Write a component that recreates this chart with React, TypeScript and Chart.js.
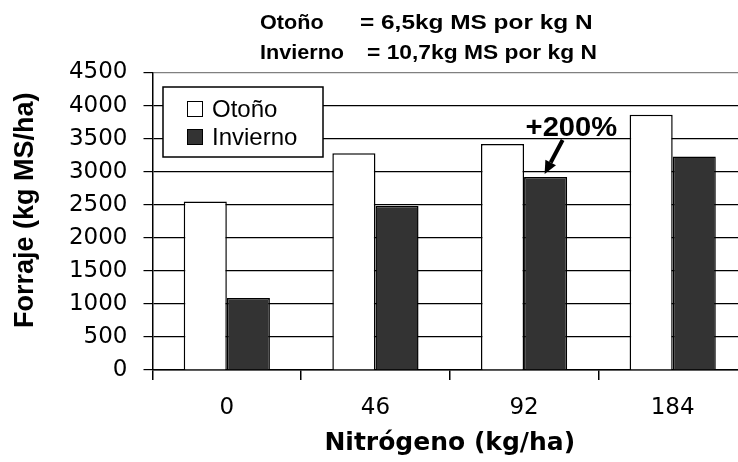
import React, { useEffect, useRef } from 'react';
import { Chart, registerables } from 'chart.js';

Chart.register(...registerables);

// Nitrogen rates (kg/ha) on the category axis
const categories = ['0', '46', '92', '184'];
// Forage yield (kg MS/ha) per season
const seriesNames = ['Otoño', 'Invierno'];
const otonoValues = [2550, 3280, 3420, 3860];
const inviernoValues = [1090, 2480, 2920, 3230];
const seriesFill = ['#ffffff', '#333333'];

// Y axis range
const yMin = 0;
const yMax = 4500;
const yStep = 500;

// Response per kg of nitrogen, shown above the plot
const noteSeason = ['Otoño', 'Invierno'];
const noteText = ['= 6,5kg MS por kg N', '= 10,7kg MS por kg N'];

// Highlighted increase on the winter series
const increaseText = '+200%';
const increaseIndex = 2;

const yTitle = 'Forraje (kg MS/ha)';
const xTitle = 'Nitrógeno (kg/ha)';

const FONT = '"Liberation Sans", Arial, Helvetica, sans-serif';
const WIDE_FONT = '"DejaVu Sans", Verdana, sans-serif';

// draws text widened horizontally by factor k, left edge at x
function wideText(ctx: CanvasRenderingContext2D, text: string, x: number, y: number, k: number) {
  ctx.save();
  ctx.translate(x, y);
  ctx.scale(k, 1);
  ctx.fillText(text, 0, 0);
  ctx.restore();
}

const overlays = {
  id: 'overlays',
  afterDraw(chart: any) {
    const { ctx, chartArea } = chart;
    ctx.save();
    ctx.fillStyle = '#000';
    ctx.textAlign = 'left';
    ctx.textBaseline = 'alphabetic';

    // efficiency note (two rows)
    ctx.font = `bold 20px ${FONT}`;
    const rowBase = [29, 59];
    const eqX = [360, 367];
    const eqStretch = [1.22, 1.14];
    noteSeason.forEach((s, i) => {
      wideText(ctx, s, 260, rowBase[i], 1.08);
      wideText(ctx, noteText[i], eqX[i], rowBase[i], eqStretch[i]);
    });

    // y-axis title
    ctx.save();
    ctx.font = `bold 27px ${FONT}`;
    ctx.textAlign = 'center';
    ctx.translate(33, (chartArea.top + chartArea.bottom) / 2 - 11);
    ctx.rotate(-Math.PI / 2);
    ctx.fillText(yTitle, 0, 0);
    ctx.restore();

    // legend box
    const bx = chartArea.left + 10.5;
    const by = chartArea.top + 14.5;
    ctx.fillStyle = '#fff';
    ctx.fillRect(bx, by, 160, 70);
    ctx.strokeStyle = '#000';
    ctx.lineWidth = 1.5;
    ctx.strokeRect(bx, by, 160, 70);
    ctx.font = `24px ${FONT}`;
    seriesNames.forEach((name, i) => {
      const sy = by + 14 + i * 28;
      ctx.fillStyle = seriesFill[i];
      ctx.fillRect(bx + 24, sy, 16, 16);
      ctx.strokeStyle = '#000';
      ctx.lineWidth = 1;
      ctx.strokeRect(bx + 24.5, sy + 0.5, 15, 15);
      ctx.fillStyle = '#000';
      ctx.fillText(name, bx + 49, sy + 16);
    });

    // arrow and label on the winter bar
    const bar = chart.getDatasetMeta(1).data[increaseIndex];
    const tipX = bar.x - 1;
    const tipY = bar.y - 3;
    const startX = tipX + 18;
    const startY = tipY - 34;
    const ang = Math.atan2(tipY - startY, tipX - startX);
    const headLen = 13;
    const baseX = tipX - headLen * Math.cos(ang);
    const baseY = tipY - headLen * Math.sin(ang);
    ctx.strokeStyle = '#000';
    ctx.lineWidth = 4;
    ctx.beginPath();
    ctx.moveTo(startX, startY);
    ctx.lineTo(baseX, baseY);
    ctx.stroke();
    ctx.fillStyle = '#000';
    ctx.beginPath();
    ctx.moveTo(tipX, tipY);
    ctx.lineTo(baseX + 6 * Math.sin(ang), baseY - 6 * Math.cos(ang));
    ctx.lineTo(baseX - 6 * Math.sin(ang), baseY + 6 * Math.cos(ang));
    ctx.closePath();
    ctx.fill();

    ctx.font = `bold 27px ${FONT}`;
    wideText(ctx, increaseText, tipX - 19, tipY - 38, 1.08);

    ctx.restore();
  },
};

export default function App() {
  const canvasRef = useRef<HTMLCanvasElement | null>(null);

  useEffect(() => {
    const canvas = canvasRef.current;
    if (!canvas) return;
    Chart.defaults.font.family = FONT;
    Chart.defaults.color = '#000';

    const chart = new Chart(canvas, {
      type: 'bar',
      data: {
        labels: categories,
        datasets: [
          {
            label: seriesNames[0],
            data: otonoValues,
            backgroundColor: seriesFill[0],
            borderColor: '#000',
            borderWidth: 1.5,
          },
          {
            label: seriesNames[1],
            data: inviernoValues,
            backgroundColor: seriesFill[1],
            borderColor: '#000',
            borderWidth: 1.5,
          },
        ],
      },
      options: {
        responsive: false,
        animation: false,
        devicePixelRatio: 1,
        datasets: {
          bar: { categoryPercentage: 0.58, barPercentage: 1 },
        },
        layout: { padding: { top: 72.5, right: 13, left: 0, bottom: 0 } },
        plugins: {
          legend: { display: false },
          tooltip: { enabled: false },
        },
        scales: {
          x: {
            grid: {
              drawOnChartArea: false,
              drawTicks: true,
              tickLength: 10,
              color: '#000',
              lineWidth: 1.5,
              offset: true,
            },
            border: { color: '#000', width: 1.5 },
            ticks: { color: '#000', font: { family: WIDE_FONT, size: 23 }, padding: 14 },
            title: {
              display: true,
              text: xTitle,
              color: '#000',
              font: { family: WIDE_FONT, size: 25, weight: 'bold' },
              padding: { top: 0, bottom: 4 },
            },
            afterFit: (s: any) => {
              s.height = 92;
            },
          },
          y: {
            min: yMin,
            max: yMax,
            ticks: {
              stepSize: yStep,
              color: '#000',
              font: { family: WIDE_FONT, size: 23 },
              padding: 16,
              callback: (v: any) => String(v),
            },
            grid: {
              color: (c: any) => (c.tick && c.tick.value === yMax ? '#808080' : '#000'),
              tickColor: '#000',
              lineWidth: 1.2,
              tickLength: 9,
              drawTicks: true,
            },
            border: { color: '#000', width: 1.5 },
            afterFit: (s: any) => {
              s.width = 152.5;
            },
          },
        },
      },
      plugins: [overlays],
    });

    return () => chart.destroy();
  }, []);

  return (
    <div
      style={{
        position: 'fixed',
        left: 0,
        top: 0,
        width: 738,
        height: 462,
        overflow: 'hidden',
        background: '#fff',
      }}
    >
      <canvas ref={canvasRef} width={760} height={462} style={{ width: 760, height: 462, display: 'block' }} />
    </div>
  );
}
